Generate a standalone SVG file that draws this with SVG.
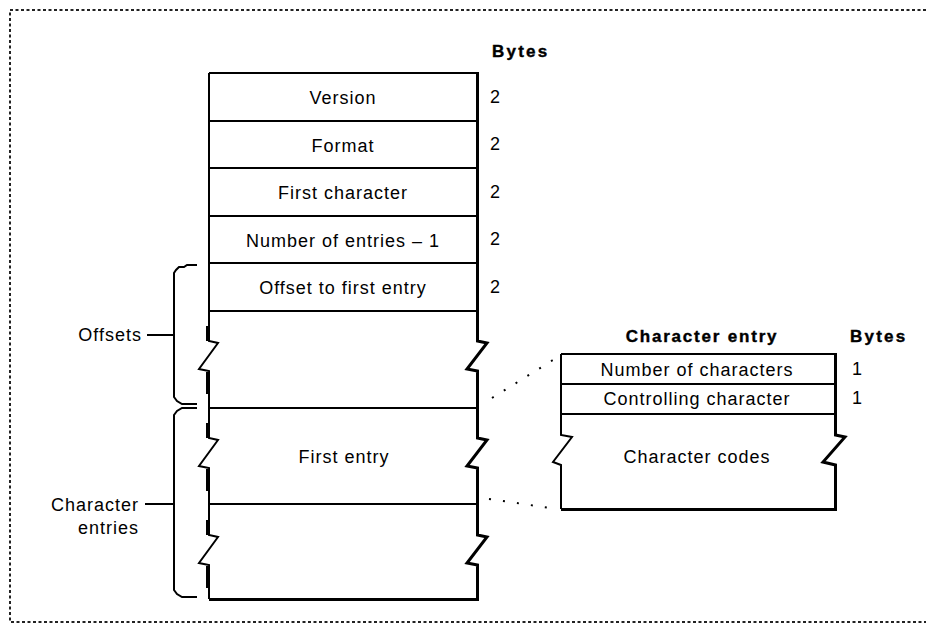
<svg xmlns="http://www.w3.org/2000/svg" width="926" height="637" viewBox="0 0 926 637">
<style>
.bg{fill:#fff}
.frame{fill:none;stroke:#222;stroke-width:2;stroke-dasharray:3 2.5}
.ln{fill:none;stroke:#000;stroke-width:2;stroke-linejoin:miter}
.thk{fill:none;stroke:#000;stroke-width:3;stroke-linejoin:miter}
.blk{fill:none;stroke:#000;stroke-width:3}
.dot{fill:none;stroke:#000;stroke-width:2;stroke-linecap:butt}
.t{font-family:"Liberation Sans",Arial,sans-serif;font-size:18px;letter-spacing:1px;fill:#000}
.c{text-anchor:middle}
.e{text-anchor:end}
.h{font-family:"Liberation Sans",Arial,sans-serif;font-size:17px;font-weight:bold;fill:#000;stroke:#000;stroke-width:0.4}
</style>
<rect class="bg" x="0" y="0" width="926" height="637"/>
<g id="frame">
<path class="frame" d="M926,10 H10 V622 H926"/>
</g>
<g id="font-record">
<path class="ln" d="M209,73 H477"/>
<path class="ln" d="M209,73 V341 L218,343 L199,369 L209,371 V438 L218,440 L199,466 L209,468 V535 L218,537 L199,563 L209,565 V599"/>
<path class="thk" d="M477.5,72 V341 L487,343 L467,369 L477.5,371 V438 L487,440 L467,466 L477.5,468 V535 L487,537 L467,563 L477.5,565 V600"/>
<path class="thk" d="M209,599.5 H479"/>
<path class="blk" d="M207.5,326 V341 M207.5,372 V394 M207.5,423 V438 M207.5,469 V491 M207.5,520 V535 M207.5,566 V588"/>
<text class="h" x="492" y="57" letter-spacing="2.2">Bytes</text>
</g>
<g id="row-version">
<text class="t c" x="343" y="104">Version</text>
<text class="t" x="490" y="103">2</text>
<path class="ln" d="M209,121 H477"/>
</g>
<g id="row-format">
<text class="t c" x="343" y="152">Format</text>
<text class="t" x="490" y="150">2</text>
<path class="ln" d="M209,168 H477"/>
</g>
<g id="row-first-character">
<text class="t c" x="343" y="199">First character</text>
<text class="t" x="490" y="198">2</text>
<path class="ln" d="M209,216 H477"/>
</g>
<g id="row-number-of-entries">
<text class="t c" x="343" y="247">Number of entries – 1</text>
<text class="t" x="490" y="245">2</text>
<path class="ln" d="M209,263 H477"/>
</g>
<g id="row-offset-to-first-entry">
<text class="t c" x="343" y="294">Offset to first entry</text>
<text class="t" x="490" y="293">2</text>
<path class="ln" d="M209,311 H477"/>
</g>
<g id="offsets-area">
<path class="ln" d="M209,408 H477"/>
</g>
<g id="first-entry">
<text class="t c" x="344" y="463">First entry</text>
<path class="ln" d="M209,504 H477"/>
</g>
<g id="character-entry">
<text class="h c" x="702" y="342" letter-spacing="1.8">Character entry</text>
<text class="h" x="850" y="342" letter-spacing="2.2">Bytes</text>
<path class="ln" d="M561,354 H835"/>
<path class="ln" d="M561,354 V435 L572,437 L553,462 L561,465 V509"/>
<path class="thk" d="M835.5,353 V435 L845,437 L823,462 L835.5,465 V510"/>
<path class="thk" d="M561,509.5 H837"/>
<path class="ln" d="M561,384 H835 M561,414 H835"/>
<text class="t c" x="697" y="376">Number of characters</text>
<text class="t" x="852" y="375">1</text>
<text class="t c" x="697" y="405">Controlling character</text>
<text class="t" x="852" y="404">1</text>
<text class="t c" x="697" y="463">Character codes</text>
</g>
<g id="offsets-label">
<text class="t e" x="142" y="341">Offsets</text>
</g>
<g id="character-entries-label">
<text class="t e" x="139" y="511">Character</text>
<text class="t e" x="139" y="534">entries</text>
</g>
<g id="connectors">
<path class="ln" d="M197,265 H187 L184,267 H179 L176,270 L174,273 V397 L177,401 L182,404 H197"/>
<path class="ln" d="M197,408 H182 L177,411 L174,415 V590 L177,594 L182,597 H197"/>
<path class="ln" d="M147,335 H174"/>
<path class="ln" d="M145,504 H174"/>
<path class="dot" d="M492,398 L553,360" stroke-dasharray="2 11.9"/>
<path class="dot" d="M489,499 L547,507.5" stroke-dasharray="2 12.1"/>
</g>
</svg>
